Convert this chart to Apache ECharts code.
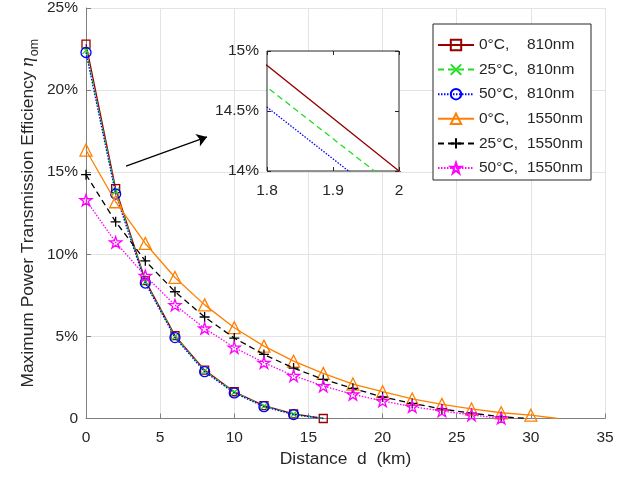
<!DOCTYPE html>
<html>
<head>
<meta charset="utf-8">
<script src="https://cdn.jsdelivr.net/npm/echarts@6/dist/echarts.min.js"></script>
<style>
  html, body { margin: 0; padding: 0; background: #fff; }
  #chart { width: 634px; height: 477px; }
</style>
</head>
<body>
<div id="chart"></div>
<script>
// Distance samples (km) where the efficiency markers sit
const distKm = [0, 2, 4, 6, 8, 10, 12, 14, 16, 18, 20, 22, 24, 26, 28, 30];

// Maximum power transmission efficiency (%), 810 nm source
const eff810_0C  = [22.8, 14.0, 8.4, 5.05, 2.95, 1.63, 0.78, 0.28, 0];
const eff810_25C = [22.42, 13.84, 8.32, 4.98, 2.9, 1.6, 0.75, 0.26];
const eff810_50C = [22.29, 13.67, 8.25, 4.93, 2.85, 1.56, 0.72, 0.24];

// Maximum power transmission efficiency (%), 1550 nm source
const eff1550_0C  = [16.35, 13.2, 10.66, 8.59, 6.92, 5.53, 4.41, 3.49, 2.75, 2.1, 1.63, 1.19, 0.86, 0.58, 0.35, 0.2];
const eff1550_25C = [14.85, 11.98, 9.6, 7.72, 6.18, 4.9, 3.9, 3.07, 2.38, 1.84, 1.31, 0.92, 0.58, 0.32, 0.11];
const eff1550_50C = [13.3, 10.73, 8.69, 6.91, 5.49, 4.32, 3.4, 2.6, 1.98, 1.47, 1.07, 0.72, 0.46, 0.21, 0.02];

// Distance (km) at which each curve reaches zero efficiency (null: last marker already at zero)
const zeroKm = {
  '810_0C': null, '810_25C': 16, '810_50C': 16,
  '1550_0C': 31.8, '1550_25C': 29.8, '1550_50C': 28.2
};

// Axis tick values
const xTicks = [0, 5, 10, 15, 20, 25, 30, 35];
const yTicksPct = [0, 5, 10, 15, 20, 25];
const insetXTicks = [1.8, 1.9, 2.0];
const insetYTicksPct = [14, 14.5, 15];

const seriesNames = [
  '0°C, 810nm', '25°C, 810nm', '50°C, 810nm',
  '0°C, 1550nm', '25°C, 1550nm', '50°C, 1550nm'
];

const FONT = 'Liberation Sans, Arial, Helvetica, sans-serif';
const TXT = '#262626';
const AXIS = '#7f7f7f';

const SYM_X = 'path://M0,0L10,10M10,0L0,10';
const SYM_PLUS = 'path://M5,0L5,10M0,5L10,5';
const SYM_STAR = 'path://M50,0L61.8,36.2L100,36.2L69.1,58.8L80.9,95.1L50,72.7L19.1,95.1L30.9,58.8L0,36.2L38.2,36.2Z';

function buildData(values, endKm) {
  const pts = values.map((v, i) => [distKm[i], v]);
  if (endKm != null) pts.push({ value: [endKm, 0], symbol: 'none' });
  return pts;
}

const styles = [
  { key: '810_0C',  vals: eff810_0C,  color: '#990000', dash: 'solid', symbol: 'rect',     size: 8 },
  { key: '810_25C', vals: eff810_25C, color: '#22dd22', dash: [6, 4],  symbol: SYM_X,      size: 7 },
  { key: '810_50C', vals: eff810_50C, color: '#0000ff', dash: [1.5, 1.5], symbol: 'circle', size: 10 },
  { key: '1550_0C',  vals: eff1550_0C,  color: '#ff8000', dash: 'solid', symbol: 'triangle', size: 12 },
  { key: '1550_25C', vals: eff1550_25C, color: '#000000', dash: [6, 4],  symbol: SYM_PLUS,  size: 10 },
  { key: '1550_50C', vals: eff1550_50C, color: '#ff00ff', dash: [1.5, 1.5], symbol: SYM_STAR, size: 12 }
];

const series = styles.map((s, i) => ({
  name: seriesNames[i],
  type: 'line',
  xAxisIndex: 0,
  yAxisIndex: 0,
  data: buildData(s.vals, zeroKm[s.key]),
  symbol: s.symbol,
  symbolSize: s.size,
  symbolKeepAspect: true,
  showAllSymbol: true,
  animation: false,
  lineStyle: { color: s.color, width: 1.3, type: s.dash },
  itemStyle: { color: 'rgba(255,255,255,0)', borderColor: s.color, borderWidth: 1.3 },
  emphasis: { disabled: true },
  z: 2 + i * 0.01
}));

// Pointer arrow from the curves up to the zoomed view
series[0].markLine = {
  silent: true,
  animation: false,
  symbol: ['none', 'arrow'],
  symbolSize: 10,
  label: { show: false },
  lineStyle: { color: '#000', width: 1.2, type: 'solid' },
  itemStyle: { color: '#000' },
  data: [[{ coord: [2.7, 15.37] }, { coord: [8.16, 17.15] }]]
};

// Zoomed view of the 810 nm curves near d = 2 km
styles.slice(0, 3).forEach((s, i) => {
  series.push({
    name: 'zoom ' + seriesNames[i],
    type: 'line',
    xAxisIndex: 1,
    yAxisIndex: 1,
    data: buildData(s.vals, null),
    showSymbol: false,
    clip: true,
    animation: false,
    lineStyle: { color: s.color, width: 1.3, type: s.dash },
    itemStyle: { color: s.color },
    emphasis: { disabled: true },
    z: 6
  });
});

const pctFmt = v => (Math.abs(v) < 1e-9 ? '0' : (+v.toFixed(2)) + '%');

const option = {
  backgroundColor: '#ffffff',
  animation: false,
  textStyle: { fontFamily: FONT },
  grid: [
    { left: 86, right: 29, top: 8, bottom: 58.5, show: false },
    { left: 267, top: 51, width: 132, height: 120, show: true, backgroundColor: '#ffffff',
      borderColor: '#262626', borderWidth: 1, z: 4 }
  ],
  xAxis: [
    {
      type: 'value', gridIndex: 0, min: xTicks[0], max: xTicks[xTicks.length - 1],
      interval: xTicks[1] - xTicks[0],
      name: 'Distance  d  (km)', nameLocation: 'middle', nameGap: 31,
      nameTextStyle: { fontSize: 17.4, color: TXT, fontFamily: FONT },
      axisLine: { show: true, onZero: false, lineStyle: { color: AXIS, width: 1 } },
      axisTick: { show: true, inside: true, length: 5, lineStyle: { color: AXIS } },
      axisLabel: { fontSize: 15.5, color: TXT, margin: 11, fontFamily: FONT },
      splitLine: { show: true, lineStyle: { color: '#e3e3e3', width: 1 } }
    },
    {
      type: 'value', gridIndex: 1, min: insetXTicks[0], max: insetXTicks[insetXTicks.length - 1],
      interval: 0.1, z: 5,
      axisLine: { show: false },
      axisTick: { show: true, inside: true, length: 4, lineStyle: { color: '#262626' } },
      axisLabel: { fontSize: 15.5, color: TXT, margin: 12, fontFamily: FONT,
        formatter: v => String(+v.toFixed(1)) },
      splitLine: { show: false }
    },
    {
      type: 'value', gridIndex: 1, position: 'top', min: insetXTicks[0], max: insetXTicks[insetXTicks.length - 1],
      interval: 0.1, z: 5,
      axisLine: { show: false },
      axisTick: { show: true, inside: true, length: 4, lineStyle: { color: '#262626' } },
      axisLabel: { show: false },
      splitLine: { show: false }
    }
  ],
  yAxis: [
    {
      type: 'value', gridIndex: 0, min: yTicksPct[0], max: yTicksPct[yTicksPct.length - 1],
      interval: yTicksPct[1] - yTicksPct[0],
      name: '{t|Maximum Power Transmission Efficiency }{g|η}{s|om}',
      nameLocation: 'middle', nameGap: 45, nameMoveOverlap: false,
      nameTextStyle: {
        color: TXT, fontFamily: FONT,
        rich: {
          t: { fontSize: 17.4, color: TXT, fontFamily: FONT, verticalAlign: 'bottom', lineHeight: 20, padding: [0, 0, 4, 0] },
          g: { fontSize: 19, color: TXT, fontFamily: 'Liberation Serif, serif', fontStyle: 'italic', verticalAlign: 'bottom', lineHeight: 20, padding: [0, 1, 4, 0] },
          s: { fontSize: 12.5, color: TXT, fontFamily: FONT, verticalAlign: 'bottom', lineHeight: 15 }
        }
      },
      axisLine: { show: true, onZero: false, lineStyle: { color: AXIS, width: 1 } },
      axisTick: { show: true, inside: true, length: 5, lineStyle: { color: AXIS } },
      axisLabel: { fontSize: 15.5, color: TXT, margin: 8, fontFamily: FONT, formatter: pctFmt },
      splitLine: { show: true, lineStyle: { color: '#e3e3e3', width: 1 } }
    },
    {
      type: 'value', gridIndex: 1, min: insetYTicksPct[0], max: insetYTicksPct[insetYTicksPct.length - 1],
      interval: 0.5, z: 5,
      axisLine: { show: false },
      axisTick: { show: true, inside: true, length: 4, lineStyle: { color: '#262626' } },
      axisLabel: { fontSize: 15.5, color: TXT, margin: 8, fontFamily: FONT, formatter: pctFmt },
      splitLine: { show: false }
    },
    {
      type: 'value', gridIndex: 1, position: 'right', min: insetYTicksPct[0], max: insetYTicksPct[insetYTicksPct.length - 1],
      interval: 0.5, z: 5,
      axisLine: { show: false },
      axisTick: { show: true, inside: true, length: 4, lineStyle: { color: '#262626' } },
      axisLabel: { show: false },
      splitLine: { show: false }
    }
  ],
  legend: {
    data: seriesNames,
    orient: 'vertical',
    left: 433,
    top: 24,
    padding: [13, 8, 4, 4],
    itemWidth: 36,
    itemHeight: 13,
    itemGap: 8.6,
    backgroundColor: '#ffffff',
    borderColor: '#262626',
    borderWidth: 1,
    borderRadius: 0,
    selectedMode: false,
    formatter: name => {
      const parts = name.split(', ');
      return '{a|' + parts[0] + ',}{b|' + parts[1] + '}';
    },
    textStyle: {
      fontFamily: FONT, fontSize: 15.5, color: TXT,
      rich: {
        a: { fontFamily: FONT, fontSize: 15.5, color: TXT, width: 48 },
        b: { fontFamily: FONT, fontSize: 15.5, color: TXT }
      }
    }
  },
  series: series
};

const chart = echarts.init(document.getElementById('chart'), null, { renderer: 'canvas' });
chart.setOption(option);
</script>
</body>
</html>
